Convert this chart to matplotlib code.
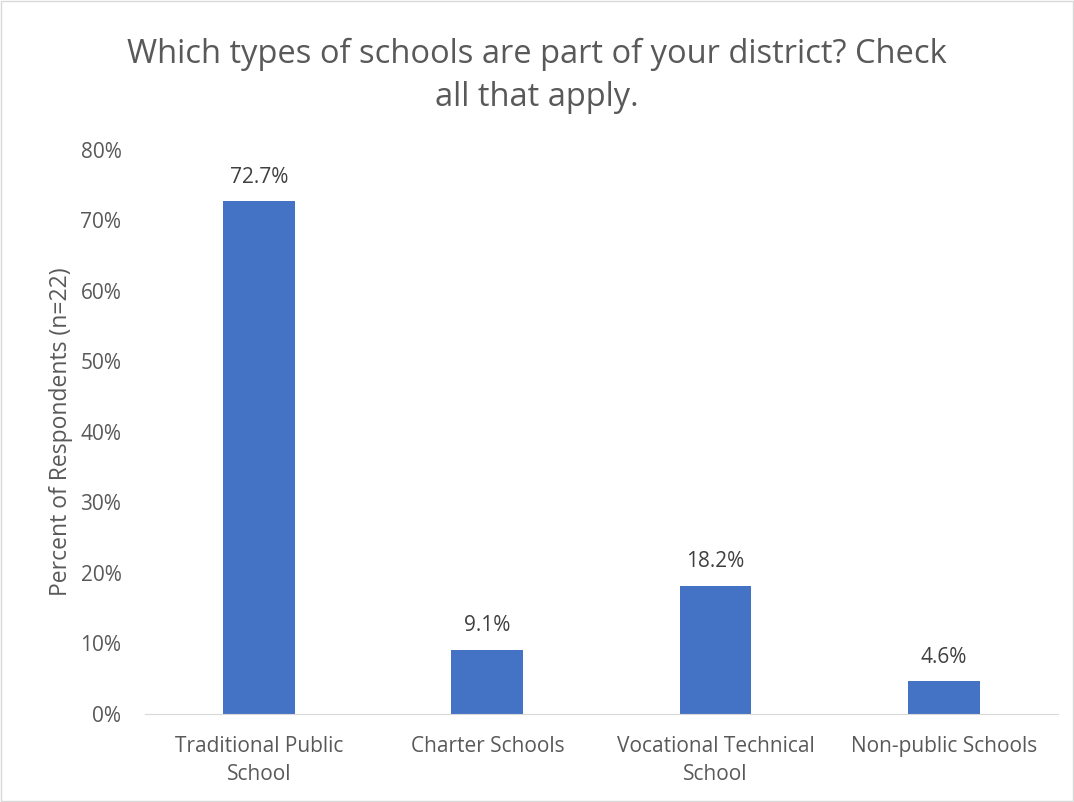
import matplotlib
matplotlib.use("Agg")
import matplotlib.pyplot as plt
from matplotlib.ticker import PercentFormatter, MultipleLocator

categories = ["Traditional Public\nSchool", "Charter Schools", "Vocational Technical\nSchool", "Non-public Schools"]
values = [72.7, 9.1, 18.2, 4.6]
labels = ["72.7%", "9.1%", "18.2%", "4.6%"]

plt.rcParams['font.family'] = ['Open Sans', 'DejaVu Sans']
txt = '#595959'

fig = plt.figure(figsize=(10.74, 8.02), dpi=100)
ax = fig.add_axes([0.135, 0.110, 0.850, 0.703])
x = range(len(categories))
bars = ax.bar(x, values, width=0.315, color='#4472C4', zorder=2)
for b, l in zip(bars, labels):
    ax.text(b.get_x() + b.get_width()/2, b.get_height() + 1.9, l,
            ha='center', va='bottom', fontsize=15, color='#404040')

ax.set_xlim(-0.5, 3.5)
ax.set_ylim(0, 80)
ax.yaxis.set_major_locator(MultipleLocator(10))
ax.yaxis.set_major_formatter(PercentFormatter(decimals=0))
ax.set_xticks(list(x))
ax.set_xticklabels(categories, fontsize=15, color=txt, linespacing=1.45)
ax.tick_params(axis='y', labelsize=15, labelcolor=txt, length=0, pad=17)
ax.tick_params(axis='x', length=0, pad=16)
for s in ['top', 'right', 'left']:
    ax.spines[s].set_visible(False)
ax.spines['bottom'].set_color('#d9d9d9')
ax.set_ylabel('Percent of Respondents (n=22)', fontsize=16.5, color=txt, labelpad=5)

fig.text(0.5, 0.906, 'Which types of schools are part of your district? Check\nall that apply.',
         ha='center', va='center', fontsize=23.5, color=txt, linespacing=1.4)

fig.patches.append(plt.Rectangle((0.001, 0.001), 0.998, 0.998, transform=fig.transFigure,
                                 fill=False, edgecolor='#d9d9d9', linewidth=1))
fig.savefig('out.png', dpi=100, facecolor='white')
